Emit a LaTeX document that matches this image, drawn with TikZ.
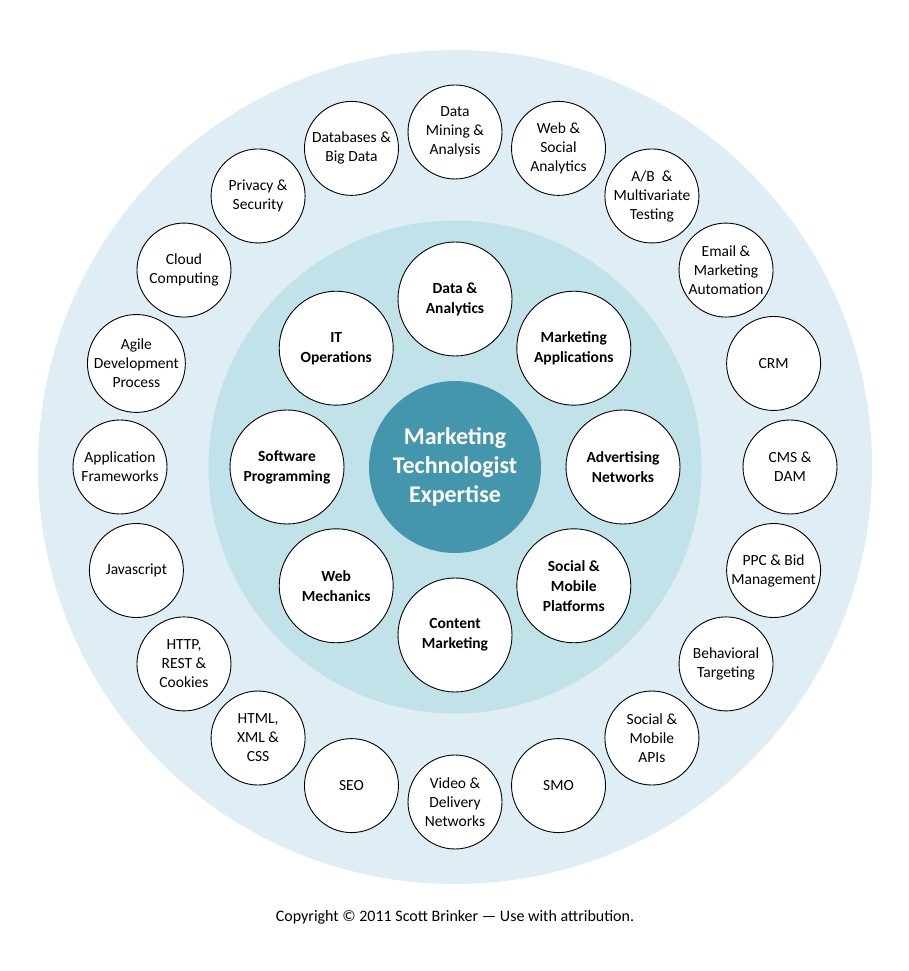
\documentclass[tikz,border=0pt]{standalone}
\usepackage{fontspec}
\setmainfont{Carlito}
\usepackage{tikz}

\definecolor{ringout}{HTML}{DFEEF4}
\definecolor{ringin}{HTML}{C2E2EA}
\definecolor{core}{HTML}{4396AB}

\tikzset{
    skill/.style={circle, draw=black, line width=0.9pt, fill=white, inner sep=0pt,
        align=center, font=\fontsize{15.5}{19}\selectfont},
    outerskill/.style={skill, minimum size=94pt},
    innerskill/.style={skill, minimum size=114pt, font=\fontsize{15.5}{20}\selectfont\bfseries},
    corebox/.style={circle, fill=core, text=white, inner sep=0pt, minimum size=172pt,
        align=center, font=\fontsize{24}{29}\selectfont\bfseries}
}

\begin{document}
\begin{tikzpicture}[x=1pt, y=1pt]
        \useasboundingbox (0,0) rectangle (908,971);
        \coordinate (O) at (455,504);

        % rings
        \fill[ringout] (O) circle (417);
        \fill[ringin] (O) circle (246.5);

        \node[corebox] (core) at (O) {Marketing\\Technologist\\Expertise};

        % inner ring
        \foreach \txt [count=\i from 0] in {{Data \&\\Analytics}, {Marketing\\Applications},
            {Advertising\\Networks}, {Social \&\\Mobile\\Platforms}, {Content\\Marketing},
            {Web\\Mechanics}, {Software\\Programming}, {IT\\Operations}}
            \node[innerskill] (inner\i) at ([shift={(90-45*\i:168)}]O) {\txt};

        % outer ring
        \foreach \txt [count=\i from 0] in {{Data\\Mining \&\\Analysis}, {Web \&\\Social\\Analytics},
            {A/B \ \&\\Multivariate\\Testing}, {Email \&\\Marketing\\Automation}, {CRM},
            {CMS \&\\DAM}, {PPC \& Bid\\Management}, {Behavioral\\Targeting},
            {Social \&\\Mobile\\APIs}, {SMO}, {Video \&\\Delivery\\Networks}, {SEO},
            {HTML,\\XML \&\\CSS}, {HTTP,\\REST \&\\Cookies}, {Javascript},
            {Application\\Frameworks}, {Agile\\Development\\Process}, {Cloud\\Computing},
            {Privacy \&\\Security}, {Databases \&\\Big Data}}
            \node[outerskill] (outer\i) at ([shift={(90-18*\i:335)}]O) {\txt};

        \node[font=\fontsize{16}{19}\selectfont] (copy) at (455,54)
            {Copyright © 2011 Scott Brinker — Use with attribution.};
    \end{tikzpicture}
\end{document}
